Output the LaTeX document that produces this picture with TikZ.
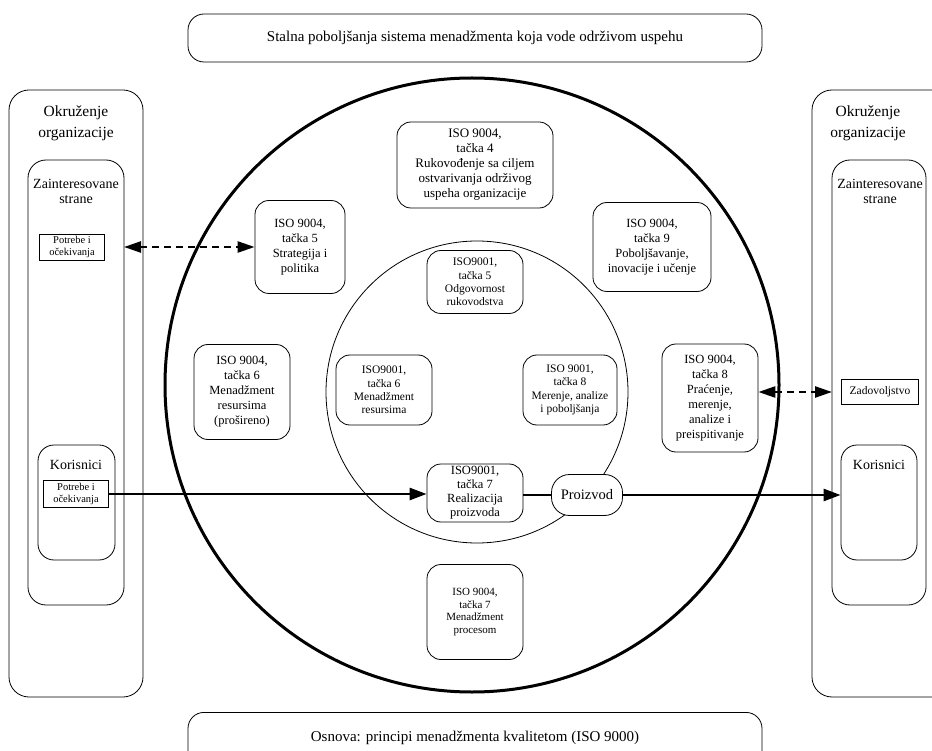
\documentclass[tikz,border=0pt]{standalone}
\usepackage{fontspec}
\setmainfont{Liberation Serif}
\usetikzlibrary{arrows.meta}
\begin{document}
\begin{tikzpicture}[x=1pt,y=-1pt,
  panel/.style={draw, line width=0.8pt, rounded corners=20pt},
  rbox/.style={draw, line width=0.8pt, rounded corners=14pt, align=center, inner sep=1pt, font=\fontsize{12.5}{15}\selectfont},
  sbox/.style={draw, line width=0.8pt, rounded corners=14pt, align=center, inner sep=1pt, font=\fontsize{11.5}{13.3}\selectfont},
  tbox/.style={draw, line width=0.8pt, align=center, inner sep=1pt, font=\fontsize{10.5}{11.5}\selectfont},
  lbl/.style={align=center, inner sep=0pt},
  solidarrow/.style={line width=2.6pt, -{Triangle[length=17pt,width=12pt]}},
  dasharrow/.style={line width=2.4pt, dash pattern=on 7pt off 5pt, {Triangle[length=17pt,width=11pt]}-{Triangle[length=17pt,width=11pt]}},
]
\useasboundingbox (0,0) rectangle (932,751);
\clip (0,0) rectangle (932,751);

% banners
\node[draw, line width=0.8pt, rounded corners=16pt, minimum width=574pt, minimum height=48pt, font=\fontsize{15}{17}\selectfont] (top) at (475,38) {Stalna poboljšanja sistema menadžmenta koja vode održivom uspehu};
\node[draw, line width=0.8pt, rounded corners=16pt, minimum width=574pt, minimum height=56pt, anchor=north] (bot) at (475,712) {};
\node[lbl, font=\fontsize{15}{17}\selectfont] (bottxt) at (475,738) {Osnova: principi menadžmenta kvalitetom (ISO 9000)};

% circles
\draw[line width=3pt] (472,385) circle[radius=307];
\draw[line width=0.8pt] (477,392) circle[radius=151];

% left panel
\draw[panel] (9,90) rectangle (143,697);
\node[lbl, font=\fontsize{15.5}{21}\selectfont] (envL) at (76,123) {Okruženje\\organizacije};
\draw[panel, rounded corners=18pt] (28,160) rectangle (124,605);
\node[lbl, font=\fontsize{14}{15}\selectfont] (zainL) at (76,191) {Zainteresovane\\strane};
\node[tbox, minimum width=65pt, minimum height=26pt] (pot1) at (72,247) {Potrebe i\\očekivanja};
\draw[panel, rounded corners=16pt] (38,445) rectangle (115,560);
\node[lbl, font=\fontsize{14}{15}\selectfont] (korL) at (76,465) {Korisnici};
\node[tbox, minimum width=65pt, minimum height=27pt] (pot2) at (76,494) {Potrebe i\\očekivanja};
\coordinate (zainLe) at (124,247);

% right panel
\draw[panel] (812,90) rectangle (960,697);
\node[lbl, font=\fontsize{15.5}{21}\selectfont] (envR) at (868,123) {Okruženje\\organizacije};
\draw[panel, rounded corners=18pt] (832,160) rectangle (926,605);
\node[lbl, font=\fontsize{14}{15}\selectfont] (zainR) at (880,191) {Zainteresovane\\strane};
\node[tbox, minimum width=77pt, minimum height=25pt, font=\fontsize{11.5}{13}\selectfont] (zad) at (880,392) {Zadovoljstvo};
\coordinate (zainRw) at (832,392);
\node[panel, rounded corners=16pt, minimum width=76pt, minimum height=115pt] (korR) at (879,502.5) {};
\node[lbl, font=\fontsize{14}{15}\selectfont] (korRt) at (879,465) {Korisnici};

% outer ring boxes (ISO 9004)
\node[rbox, minimum width=156pt, minimum height=86pt, font=\fontsize{13}{15}\selectfont] (b4) at (475,165) {ISO 9004,\\tačka 4\\Rukovođenje sa ciljem\\ostvarivanja održivog\\uspeha organizacije};
\node[rbox, minimum width=90pt, minimum height=93pt] (b5) at (300,247) {ISO 9004,\\tačka 5\\Strategija i\\politika};
\node[rbox, minimum width=118pt, minimum height=89pt] (b9) at (652,247) {ISO 9004,\\tačka 9\\Poboljšavanje,\\inovacije i učenje};
\node[rbox, minimum width=96pt, minimum height=95pt] (b6) at (242,392) {ISO 9004,\\tačka 6\\Menadžment\\resursima\\(prošireno)};
\node[rbox, minimum width=96pt, minimum height=108pt] (b8) at (710,398) {ISO 9004,\\tačka 8\\Praćenje,\\merenje,\\analize i\\preispitivanje};
\node[rbox, minimum width=96pt, minimum height=95pt, font=\fontsize{11}{12.7}\selectfont] (b7) at (475,612) {ISO 9004,\\tačka 7\\Menadžment\\procesom};

% inner ring boxes (ISO 9001)
\node[sbox, minimum width=96pt, minimum height=63pt] (c5) at (475,282) {ISO9001,\\tačka 5\\Odgovornost\\rukovodstva};
\node[sbox, minimum width=96pt, minimum height=70pt] (c6) at (384,390) {ISO9001,\\tačka 6\\Menadžment\\resursima};
\node[sbox, minimum width=94pt, minimum height=70pt] (c8) at (570,390) {ISO 9001,\\tačka 8\\Merenje, analize\\i poboljšanja};
\node[sbox, minimum width=96pt, minimum height=58pt, font=\fontsize{12.5}{14}\selectfont] (c7) at (475,493) {ISO9001,\\tačka 7\\Realizacija\\proizvoda};
\node[draw, line width=0.8pt, rounded corners=18pt, fill=white, minimum width=71pt, minimum height=41pt, font=\fontsize{14.5}{16}\selectfont] (prod) at (587,495) {Proizvod};

% connectors
\draw[dasharrow] (zainLe) -- (b5.west |- zainLe);
\draw[dasharrow] (b8.east |- zad.west) -- (zainRw);
\draw[solidarrow] (pot2.east) -- (pot2.east -| c7.west);
\draw[line width=2.6pt] (c7.east |- prod.west) -- (prod.west);
\draw[solidarrow] (prod.east) -- (prod.east -| korR.west);
\end{tikzpicture}
\end{document}
